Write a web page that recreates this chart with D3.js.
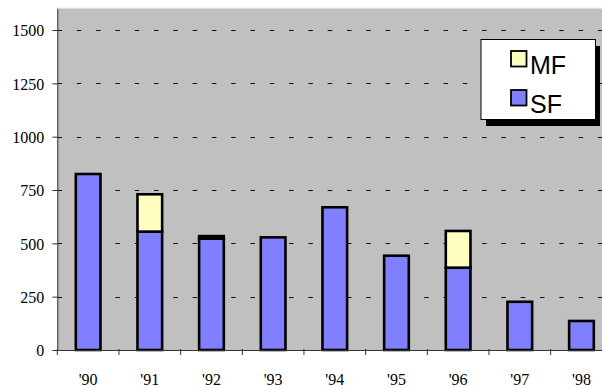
<!DOCTYPE html>
<html>
<head>
<meta charset="utf-8">
<script src="https://cdn.jsdelivr.net/npm/d3@7/dist/d3.min.js"></script>
<style>
  html, body { margin: 0; padding: 0; background: #fff; }
  svg { display: block; }
  .serif { font-family: "Liberation Serif", "Times New Roman", Times, serif; }
  .sans { font-family: "Liberation Sans", Arial, Helvetica, sans-serif; }
</style>
</head>
<body>
<script>
// Yearly counts, split into single-family (SF) and multi-family (MF)
const years = ["'90", "'91", "'92", "'93", "'94", "'95", "'96", "'97", "'98"];
const sfValues = [825, 555, 522, 528, 669, 442, 386, 226, 136];
const mfValues = [0, 175, 12, 0, 0, 0, 172, 0, 0];
const seriesNames = ["SF", "MF"];
const seriesColors = ["#8080FF", "#FFFFC0"];
const yTicks = [0, 250, 500, 750, 1000, 1250, 1500];

const W = 602, H = 388;
const plot = { left: 57.3, top: 8.7, right: 612.3, bottom: 350 };

const svg = d3.select("body").append("svg")
  .attr("width", W).attr("height", H);

const x = d3.scaleBand()
  .domain(years)
  .range([plot.left, plot.right])
  .paddingInner(0.6)
  .paddingOuter(0.3);

const y = d3.scaleLinear()
  .domain([0, 1600])
  .range([plot.bottom, plot.top]);

// plot background
svg.append("rect")
  .attr("x", plot.left).attr("y", plot.top)
  .attr("width", plot.right - plot.left).attr("height", plot.bottom - plot.top)
  .attr("fill", "#C0C0C0");
svg.append("line")
  .attr("x1", plot.left).attr("x2", plot.right)
  .attr("y1", plot.top - 0.5).attr("y2", plot.top - 0.5)
  .attr("stroke", "#d8d8d8").attr("stroke-width", 1);

// dashed gridlines
svg.append("g")
  .selectAll("line")
  .data(yTicks.filter(d => d > 0))
  .join("line")
  .attr("x1", plot.left).attr("x2", plot.right)
  .attr("y1", d => Math.round(y(d)) + 0.5).attr("y2", d => Math.round(y(d)) + 0.5)
  .attr("stroke", "#111")
  .attr("stroke-width", 1)
  .attr("stroke-dasharray", "4.5,14.8")
  .attr("stroke-dashoffset", -0.2);

// stacked bars
const table = years.map((yr, i) => ({ year: yr, SF: sfValues[i], MF: mfValues[i] }));
const stacked = d3.stack().keys(seriesNames)(table);

svg.append("g")
  .selectAll("g")
  .data(stacked)
  .join("g")
  .attr("fill", (d, i) => seriesColors[i])
  .selectAll("rect")
  .data(d => d.filter(s => s[1] - s[0] > 0))
  .join("rect")
  .attr("x", d => x(d.data.year))
  .attr("y", d => y(d[1]))
  .attr("width", x.bandwidth())
  .attr("height", d => y(d[0]) - y(d[1]))
  .attr("stroke", "#000")
  .attr("stroke-width", 2.6);

// y axis
const yAxis = d3.axisLeft(y).tickValues(yTicks).tickFormat(d3.format("d")).tickSize(5).tickPadding(8);
const gy = svg.append("g")
  .attr("transform", `translate(${plot.left},0)`)
  .call(yAxis)
  .attr("font-family", null)
  .attr("font-size", null)
  .attr("class", "serif");
gy.select(".domain").attr("d", `M0.5,${plot.top}V${plot.bottom}`).attr("stroke", "#333");
gy.selectAll(".tick line").attr("stroke", "#333").attr("x2", -5).attr("x1", 1);
gy.selectAll("text")
  .style("font-size", "16px")
  .attr("fill", "#000")
  .attr("dy", "0.36em");

// x axis: line, category boundary ticks, labels under each bar
const gx = svg.append("g").attr("transform", `translate(0,${plot.bottom})`).attr("class", "serif");
gx.append("line")
  .attr("x1", plot.left).attr("x2", plot.right)
  .attr("y1", 0.5).attr("y2", 0.5)
  .attr("stroke", "#333");
const edgeOffset = (x.step() - x.bandwidth()) / 2;
gx.selectAll("line.tk")
  .data(years)
  .join("line")
  .attr("class", "tk")
  .attr("x1", d => x(d) - edgeOffset).attr("x2", d => x(d) - edgeOffset)
  .attr("y1", -1).attr("y2", 5)
  .attr("stroke", "#333");
gx.selectAll("text")
  .data(years)
  .join("text")
  .attr("x", d => x(d) + x.bandwidth() / 2)
  .attr("y", 35)
  .attr("text-anchor", "middle")
  .style("font-size", "16px")
  .text(d => d);

// legend with drop shadow
const lg = svg.append("g").attr("class", "sans");
lg.append("rect")
  .attr("x", 486).attr("y", 46).attr("width", 114).attr("height", 80)
  .attr("fill", "#000");
lg.append("rect")
  .attr("x", 481).attr("y", 39.5).attr("width", 114.5).attr("height", 80)
  .attr("fill", "#fff").attr("stroke", "#000").attr("stroke-width", 1);
const legendItems = [
  { name: "MF", color: seriesColors[1], y: 51 },
  { name: "SF", color: seriesColors[0], y: 90 }
];
legendItems.forEach(it => {
  lg.append("rect")
    .attr("x", 511).attr("y", it.y).attr("width", 15.5).attr("height", 15.5)
    .attr("fill", it.color).attr("stroke", "#000").attr("stroke-width", 1.8);
  lg.append("text")
    .attr("x", 530).attr("y", it.y + 23)
    .style("font-size", "25px")
    .attr("fill", "#000")
    .text(it.name);
});
</script>
</body>
</html>
